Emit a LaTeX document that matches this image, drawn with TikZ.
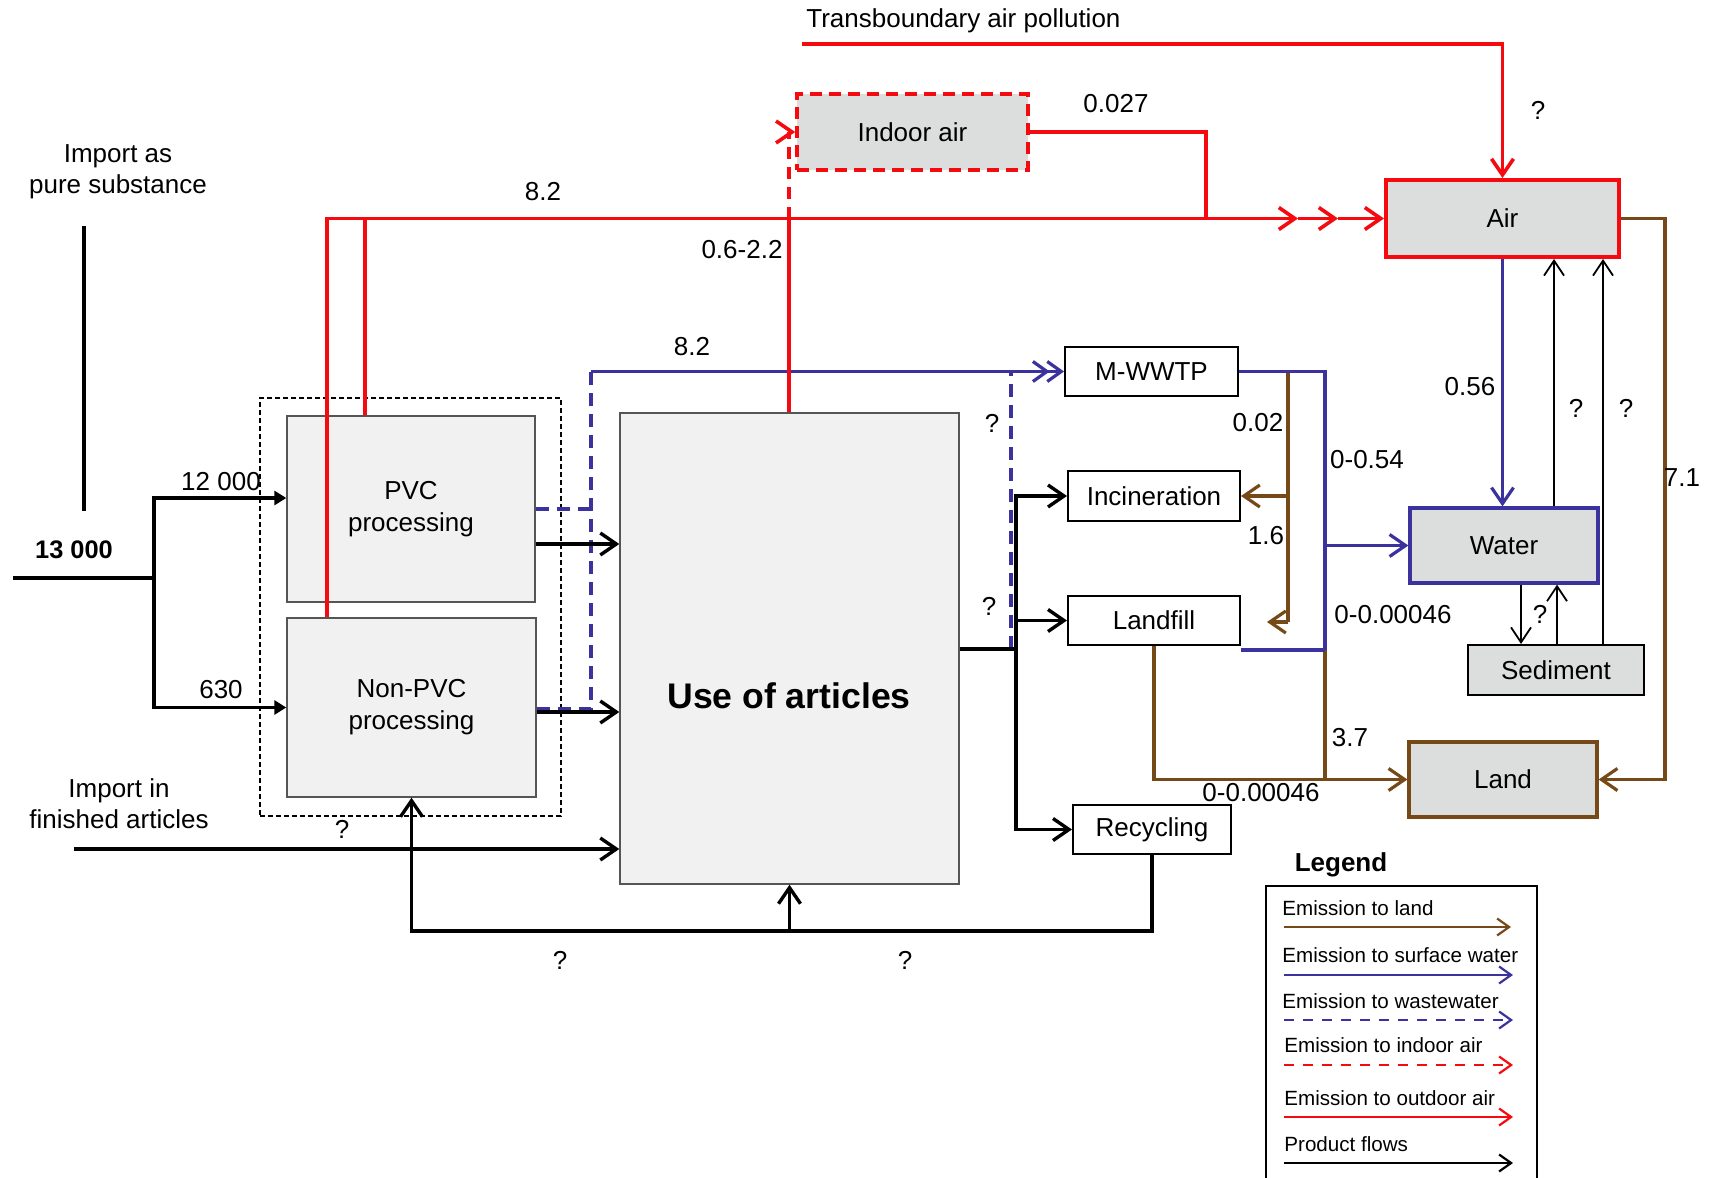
\documentclass[tikz,border=0pt]{standalone}
\usepackage{fontspec}
\setmainfont{Liberation Sans}
\usetikzlibrary{arrows.meta}

\definecolor{airred}{RGB}{245,10,15}
\definecolor{watblue}{RGB}{60,50,158}
\definecolor{landbrown}{RGB}{118,74,24}
\definecolor{compgray}{RGB}{220,221,221}
\definecolor{procgray}{RGB}{241,241,241}
\definecolor{edgegray}{RGB}{85,85,85}

\tikzset{
  lbl/.style={font=\fontsize{13}{16}\selectfont, inner sep=0pt, align=center},
  leglbl/.style={font=\fontsize{10.3}{12}\selectfont, inner sep=0pt, anchor=west},
  proc/.style={draw=edgegray, fill=procgray, line width=0.7pt, inner sep=0pt,
    font=\fontsize{13}{16}\selectfont, align=center},
  unit/.style={draw, fill=white, line width=1pt, inner sep=0pt,
    font=\fontsize{13}{16}\selectfont},
  compart/.style={fill=compgray, line width=1.6pt, inner sep=0pt,
    font=\fontsize{13}{16}\selectfont},
  prod/.style={line width=1.7pt, black},
  outair/.style={line width=1.8pt, airred},
  inair/.style={line width=1.6pt, airred, dash pattern=on 6pt off 4pt},
  surf/.style={line width=1.6pt, watblue},
  waste/.style={line width=1.6pt, watblue, dash pattern=on 6.5pt off 4pt},
  landf/.style={line width=1.6pt, landbrown},
  thinl/.style={line width=0.9pt, black},
  barb/.style={-{Straight Barb[length=8pt,width=11pt]}},
  dblbarb/.style={-{Straight Barb[length=7pt,width=10pt,sep=-2pt]Straight Barb[length=7pt,width=10pt]}},
  tbarb/.style={-{Straight Barb[length=7.5pt,width=10pt]}},
  lbarb/.style={-{Straight Barb[length=6pt,width=8.5pt]}},
  tri/.style={-{Triangle[length=6pt,width=7pt]}}
}

\begin{document}
\begin{tikzpicture}[x=0.5pt, y=-0.5pt]
\useasboundingbox (0,0) rectangle (1715,1178);

% ---------- boxes ----------
\node[draw, line width=0.8pt, dash pattern=on 2.5pt off 1.5pt, minimum width=150.5pt,
      minimum height=209pt, inner sep=0pt] (stage) at (410.5,607) {};
\node[proc, minimum width=124pt, minimum height=93pt] (PVC) at (411,509) {PVC\\processing};
\node[proc, minimum width=124.5pt, minimum height=89.5pt] (NonPVC) at (411.5,707.5) {Non-PVC\\processing};
\node[proc, minimum width=169.5pt, minimum height=235.5pt] (Use) at (789.5,648.5) {};
\node[font=\fontsize{17.8}{20}\selectfont\bfseries, inner sep=0pt] (UseLbl) at (789,696) {Use of articles};

\node[compart, draw=airred, line width=1.8pt, dash pattern=on 6pt off 3.5pt,
      minimum width=115.5pt, minimum height=38pt] (Indoor) at (912.5,132) {Indoor air};
\node[compart, draw=airred, line width=2pt, minimum width=116.5pt, minimum height=38.5pt] (Air) at (1502.5,218.5) {Air};
\node[compart, draw=watblue, minimum width=94pt, minimum height=37.5pt] (Water) at (1504,545.5) {Water};
\node[compart, draw=black, line width=1pt, minimum width=88pt, minimum height=25pt] (Sediment) at (1556,670) {Sediment};
\node[compart, draw=landbrown, minimum width=94pt, minimum height=37.5pt] (Land) at (1503,779.5) {Land};

\node[unit, minimum width=86.5pt, minimum height=24.5pt] (MWWTP) at (1151.5,371.5) {M-WWTP};
\node[unit, minimum width=86pt, minimum height=25pt] (Incin) at (1154,496) {Incineration};
\node[unit, minimum width=86pt, minimum height=24.5pt] (Landfill) at (1154,620.5) {Landfill};
\node[unit, minimum width=79pt, minimum height=24.5pt] (Recycling) at (1152,829.5) {Recycling};

% ---------- free ends ----------
\coordinate (tb) at (802,44);
\coordinate (src) at (13,578);
\coordinate (split) at (154,578);
\coordinate (pureTop) at (84,226);
\coordinate (pureBot) at (84,511);
\coordinate (impfin) at (74,849);
\coordinate (lfdrop) at (1267,622);

% ---------- emissions to land ----------
\draw[landf] (1288,0 |- MWWTP.east) -- (1288,0 |- lfdrop);
\draw[landf, barb] (1288,0 |- lfdrop) -- (lfdrop);
\draw[landf, barb] (1288,0 |- Incin.east) -- (Incin.east);
\draw[landf] (1325,650) -- (1325,0 |- Land.west);
\draw[landf, barb] (Landfill.south) -- (Landfill.south |- Land.west) -- (Land.west);
\draw[landf, barb] (Air.east) -- (Air.east -| 1665,0) -- (1665,0 |- Land.east) -- (Land.east);

% ---------- emissions to wastewater and surface water ----------
\draw[waste] (PVC.east) -- (PVC.east -| 591,0);
\draw[waste] (NonPVC.east |- 0,709) -- (591,709) -- (591,0 |- MWWTP.west);
\draw[surf, dblbarb] (591,0 |- MWWTP.west) -- (MWWTP.west);
\draw[waste] (1011,649) -- (1011,0 |- MWWTP.west);
\draw[surf] (MWWTP.east) -- (MWWTP.east -| 1325,0) -- (1325,650);
\draw[surf] (Landfill.east |- 0,650) -- (1325,650);
\draw[surf, barb] (1325,0 |- Water.west) -- (Water.west);
\draw[surf, barb] (Air.south) -- (Air.south |- Water.north);

% ---------- emissions to air ----------
\draw[outair, barb] (tb) -- (Air.north |- tb) -- (Air.north);
\draw[outair, barb] (327,0 |- NonPVC.north) -- (327,0 |- Air.west) -- (Air.west -| 1298,0);
\draw[outair, barb] (Air.west -| 1298,0) -- (Air.west -| 1338,0);
\draw[outair, barb] (Air.west -| 1338,0) -- (Air.west);
\draw[outair] (365,0 |- PVC.north) -- (365,0 |- Air.west);
\draw[outair] (789,0 |- Use.north) -- (789,0 |- Air.west);
\draw[inair] (789,0 |- Air.west) -- (789,0 |- Indoor.west);
\draw[outair, barb] (789,0 |- Indoor.west) -- (Indoor.west);
\draw[outair] (Indoor.east) -- (Indoor.east -| 1206,0) -- (1206,0 |- Air.west);

% ---------- product flows ----------
\draw[prod] (src) -- (split);
\draw[prod] (pureTop) -- (pureBot);
\draw[prod, tri] (split) -- (split |- 0,498) -- (PVC.west |- 0,498);
\draw[prod, tri] (split) -- (split |- NonPVC.west) -- (NonPVC.west);
\draw[prod, barb] (PVC.east |- 0,544) -- (Use.west |- 0,544);
\draw[prod, barb] (NonPVC.east |- 0,712) -- (Use.west |- 0,712);
\draw[prod, barb] (impfin) -- (Use.west |- impfin);
\draw[prod] (Use.east |- 0,649) -- (1016,649);
\draw[prod, barb] (1016,649) -- (1016,0 |- Incin.west) -- (Incin.west);
\draw[prod, barb] (1016,0 |- Landfill.west) -- (Landfill.west);
\draw[prod, barb] (1016,649) -- (1016,0 |- Recycling.west) -- (Recycling.west);
\draw[prod, barb] (Recycling.south) -- (Recycling.south |- 0,931) -- (NonPVC.south |- 0,931) -- (NonPVC.south);
\draw[prod, barb] (Use.south |- 0,931) -- (Use.south);

% ---------- exchanges between compartments ----------
\draw[thinl, tbarb] (1554,0 |- Water.north) -- (1554,0 |- Air.south);
\draw[thinl, tbarb] (1603,0 |- Sediment.north) -- (1603,0 |- Air.south);
\draw[thinl, tbarb] (1521,0 |- Water.south) -- (1521,0 |- Sediment.north);
\draw[thinl, tbarb] (1557,0 |- Sediment.north) -- (1557,0 |- Water.south);

% ---------- labels ----------
\node[lbl, anchor=west] (tbLbl) at (806,21) {Transboundary air pollution};
\node[lbl] (qTb) at (1538,110) {?};
\node[lbl] (vIndoor) at (1116,104) {0.027};
\node[lbl] (vOut) at (543,192) {8.2};
\node[lbl] (vUseAir) at (742,250) {0.6-2.2};
\node[lbl] (vWaste) at (692,347) {8.2};
\node[lbl, font=\fontsize{13}{15.5}\selectfont] (pureLbl) at (118,172) {Import as\\pure substance};
\node[lbl, font=\fontsize{12.7}{15}\selectfont\bfseries] (total) at (74,550) {13 000};
\node[lbl] (vPVC) at (221,482) {12 000};
\node[lbl] (vNon) at (221,690) {630};
\node[lbl, font=\fontsize{13}{15.5}\selectfont] (finLbl) at (119,804) {Import in\\finished articles};
\node[lbl] (qRecStage) at (342,829) {?};
\node[lbl] (qRecA) at (560,960) {?};
\node[lbl] (qRecB) at (905,960) {?};
\node[lbl] (qUseWaste) at (992,423) {?};
\node[lbl] (qUseProd) at (989,606) {?};
\node[lbl] (vSludgeInc) at (1258,423) {0.02};
\node[lbl] (vSludgeLf) at (1266,536) {1.6};
\node[lbl] (vWwtpWat) at (1367,460) {0-0.54};
\node[lbl] (vLfWat) at (1393,615) {0-0.00046};
\node[lbl] (vWwtpLand) at (1350,738) {3.7};
\node[lbl] (vLfLand) at (1261,793) {0-0.00046};
\node[lbl] (vDep) at (1470,387) {0.56};
\node[lbl] (qWatAir) at (1576,408) {?};
\node[lbl] (qSedAir) at (1626,408) {?};
\node[lbl] (qSed) at (1540,614) {?};
\node[lbl] (vAirLand) at (1682,478) {7.1};

% ---------- legend ----------
\node[lbl, font=\fontsize{13}{16}\selectfont\bfseries] (legTitle) at (1341,865) {Legend};
\node[draw, line width=1pt, minimum width=135.5pt, minimum height=160pt, inner sep=0pt,
      anchor=north west] (legBox) at (1265,885) {};
\node[leglbl] (lgLand) at (1282,908) {Emission to land};
\draw[landf, line width=1.1pt, lbarb] (1284,927) -- (1511,927);
\node[leglbl] (lgSurf) at (1282,955) {Emission to surface water};
\draw[surf, line width=1.1pt, lbarb] (1284,975) -- (1513,975);
\node[leglbl] (lgWaste) at (1282,1001) {Emission to wastewater};
\draw[surf, line width=1.1pt, dash pattern=on 5pt off 4.5pt, lbarb] (1284,1020) -- (1513,1020);
\node[leglbl] (lgIndoor) at (1284,1045) {Emission to indoor air};
\draw[outair, line width=1.1pt, dash pattern=on 5pt off 4.5pt, lbarb] (1284,1065) -- (1513,1065);
\node[leglbl] (lgOutdoor) at (1284,1098) {Emission to outdoor air};
\draw[outair, line width=1.1pt, lbarb] (1284,1117) -- (1513,1117);
\node[leglbl] (lgProd) at (1284,1144) {Product flows};
\draw[prod, line width=1.1pt, lbarb] (1284,1163) -- (1513,1163);
\end{tikzpicture}
\end{document}
